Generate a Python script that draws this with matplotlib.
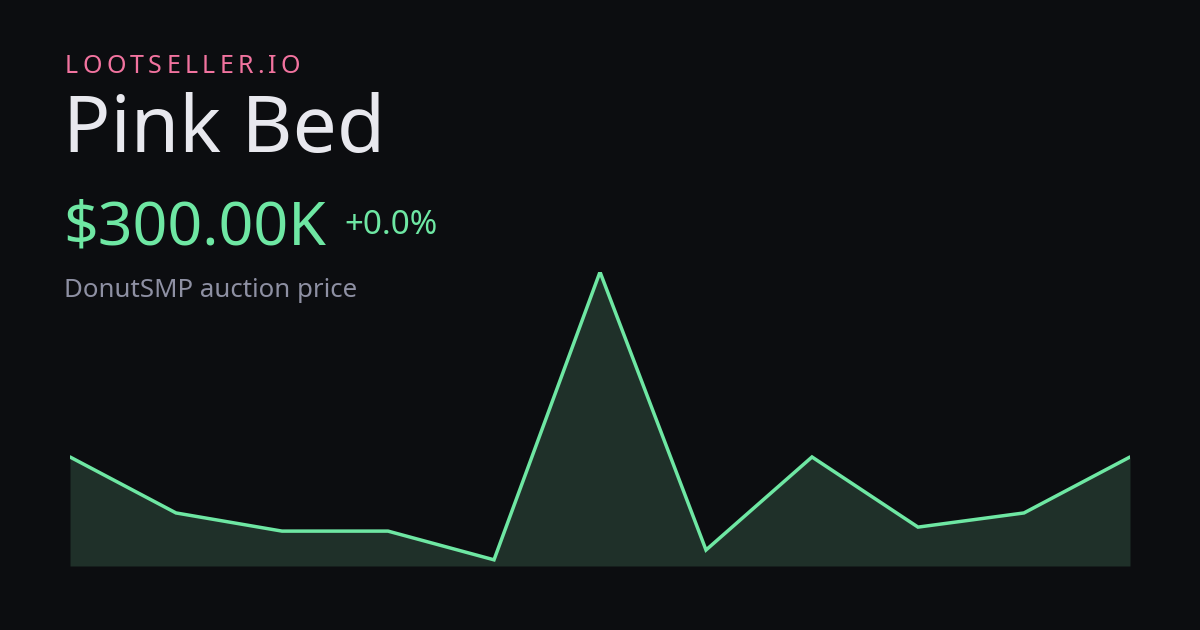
import matplotlib.pyplot as plt
import numpy as np

# price history (thousands), oldest -> newest
prices = [300, 146, 96, 96, 17, 809, 44, 300, 107, 146, 300]
brand = "LOOTSELLER.IO"
item_name = "Pink Bed"
price_label = "$300.00K"
change_label = "+0.0%"
subtitle = "DonutSMP auction price"

bg = "#0c0d10"
green = "#6ee7a3"
fill_col = "#1f3029"

plt.rcParams["font.family"] = ["Noto Sans", "DejaVu Sans"]

W, H = 1200, 630
fig = plt.figure(figsize=(12, 6.3), dpi=100, facecolor=bg)


def px(x, y):
    return x / W, 1 - y / H


# chart area: baseline at y=566, top of peak at y=272
ax = fig.add_axes([70 / W, (H - 566) / H, 1060 / W, (566 - 272) / H])
ax.set_facecolor(bg)
x = np.arange(len(prices))
ax.fill_between(x, prices, 0, color=fill_col, linewidth=0)
ax.plot(x, prices, color=green, linewidth=2.5, solid_joinstyle="miter",
        solid_capstyle="round")
ax.set_xlim(0, len(prices) - 1)
ax.set_ylim(0, max(prices))
ax.axis("off")

# brand with letter spacing
fig.canvas.draw()
renderer = fig.canvas.get_renderer()
cx = 65
for ch in brand:
    t = fig.text(*px(cx, 73), ch, fontsize=18, color="#f2739f", va="baseline")
    w = t.get_window_extent(renderer).width
    cx += w + 4.3

fig.text(*px(63, 152), item_name, fontsize=56.5, color="#e8e8ee", va="baseline")
fig.text(*px(63, 244), price_label, fontsize=43.8, color=green, va="baseline")
fig.text(*px(344, 234), change_label, fontsize=23.8, color=green, va="baseline")
fig.text(*px(64, 297), subtitle, fontsize=18.6, color="#8e90a3", va="baseline")

fig.savefig("out.png", dpi=100, facecolor=bg)
